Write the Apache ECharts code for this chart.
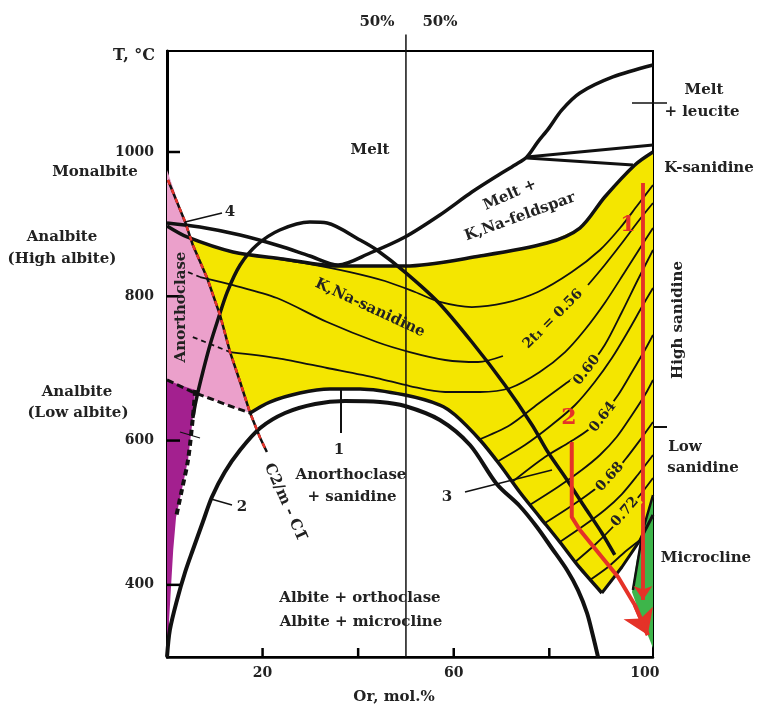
<!DOCTYPE html>
<html>
<head>
<meta charset="utf-8">
<title>Ab-Or phase diagram</title>
<script src="https://cdn.jsdelivr.net/npm/echarts@6.0.0/dist/echarts.min.js"></script>
<style>
  html, body { margin: 0; padding: 0; background: #fff; }
  #chart { width: 757px; height: 712px; }
</style>
</head>
<body>
<div id="chart"></div>
<script>
// axes: Or, mol.% and T, °C
const xMin = 0, xMax = 101.7;
const yMin = 300, yMax = 1140;
const xTickValues = [20, 40, 60, 80];
const xLabelValues = [20, 60, 100];
const yTickValues = [400, 600, 800, 1000];

// phase boundaries [Or, T]
const liquidus = [[0,901.6],[6.9,896.0],[15.3,884.9],[23.6,869.7],[29.9,855.8],[35.8,843.4],[42.5,860.0],[49.8,882.2],[57.1,912.7],[63.8,944.5],[69.7,969.5],[72.8,982.0],[75.3,993.1],[77.6,1014.0],[79.8,1032.0],[82.6,1058.0],[86.4,1081.8],[93.3,1104.0],[101.7,1120.6]];
const solidus = [[0,897.4],[4.2,882.2],[13.8,861.4],[24.3,851.7],[35.8,842.0],[49.8,842.0],[65.5,855.8],[79.5,873.8],[86.4,894.6],[91.6,937.6],[97.9,982.0],[101.7,1000.0]];
const peritecticUpper = [[75.3,993.1],[101.7,1009.7]];
const peritecticLower = [[75.3,991.7],[97.5,982.0]];
const solvusHigh = [[5.4,631.3],[6.1,656.2],[7.5,695.0],[9.0,732.5],[10.5,764.3],[12.6,805.9],[15.3,843.4],[18.8,871.1],[23.6,891.9],[29.9,903.0],[33.5,901.6],[40.4,878.0],[43.9,864.2],[49.8,833.6],[56.7,792.1],[63.8,736.6],[70.7,677.0],[76.4,621.6],[79.7,584.1],[83.3,549.5],[87.4,507.9],[91.0,471.9],[93.7,441.4]];
const solvusDashed = [[5.9,670.1],[5.4,631.3],[4.4,573.0],[3.1,531.4],[1.9,494.0]];
const solvusLow = [[0,300],[0.6,337.4],[2.1,379.0],[3.8,417.8],[5.4,448.3],[7.5,487.1],[9.4,521.7],[12.1,556.4],[15.3,586.9],[19.5,617.4],[24.7,638.2],[31.0,650.7],[37.2,654.8],[44.6,653.4],[49.8,647.9],[57.1,628.5],[63.4,593.8],[69.0,539.8],[73.8,509.3],[77.4,480.2],[80.5,451.1],[83.7,420.6],[86.0,392.8],[87.9,360.9],[89.1,330.4],[90.2,300]];
const sanidineLower = [[17.4,638.2],[21.5,653.4],[27.8,665.9],[34.1,671.5],[40.4,671.5],[49.8,663.1],[57.1,649.3],[60.3,635.4],[65.5,600.8],[69.7,566.1],[73.8,528.7],[78.0,494.0],[82.2,459.4],[86.4,423.4],[91.0,388.7]];
const sanidineRight = [[91.0,388.7],[95.2,424.8],[99.0,462.1],[101.7,496.8]];
const c2mLine = [[0.2,961.2],[3.8,903.0],[5.4,871.1],[8.4,825.3],[11.1,774.0],[13.2,722.7],[15.3,681.2],[17.4,638.2],[19.5,603.5],[20.9,584.1]];
const anorthoclaseLower = [[0,684.0],[5.4,667.3],[12.6,649.3],[17.4,638.2]];
const microclineEdge = [[101.7,524.5],[99.6,476.0],[97.5,392.8]];
const midLine = [[50,300],[50,1163]];

// filled fields
const yellowField = [[4.2,882.2],[13.8,861.4],[24.3,851.7],[35.8,842.0],[49.8,842.0],[65.5,855.8],[79.5,873.8],[86.4,894.6],[91.6,937.6],[97.9,982.0],[101.7,1000.0],[101.7,496.8],[99.0,462.1],[95.2,424.8],[91.0,388.7],[86.4,423.4],[82.2,459.4],[78.0,494.0],[73.8,528.7],[69.7,566.1],[65.5,600.8],[60.3,635.4],[57.1,649.3],[49.8,663.1],[40.4,671.5],[34.1,671.5],[27.8,665.9],[21.5,653.4],[17.4,638.2],[15.3,681.2],[13.2,722.7],[11.1,774.0],[8.4,825.3],[5.4,871.1]];
const pinkField = [[0,975.0],[3.8,903.0],[5.4,871.1],[8.4,825.3],[11.1,774.0],[13.2,722.7],[15.3,681.2],[17.4,638.2],[12.6,649.3],[5.4,667.3],[0,684.0]];
const purpleField = [[0,684.0],[2.7,677.0],[5.9,670.1],[5.4,631.3],[4.4,573.0],[3.1,531.4],[1.9,494.0],[1.3,448.3],[0.8,392.8],[0.2,323.5],[0,302.7]];
const greenField = [[101.7,520.4],[100.0,482.9],[98.3,434.4],[97.3,390.0],[99.0,358.2],[100.6,330.4],[101.7,312.4]];

// 2t1 contours
const t054 = [[19.5,855.8],[29.9,844.7],[38.3,833.6],[45.6,821.2],[51.9,805.9],[57.1,792.1],[63.8,785.1],[70.7,790.7],[77.6,805.9],[84.7,833.6],[90.6,864.2],[94.8,894.6],[98.5,926.5],[101.7,954.2]];
const t056a = [[6.9,826.7],[13.8,815.6],[23.0,797.6],[33.5,764.3],[43.9,736.6],[50.8,722.7],[58.2,711.7],[65.1,708.9],[70.3,717.2]];
const t056b = [[88.1,815.6],[91.6,843.4],[95.2,873.8],[98.5,903.0],[101.7,929.3]];
const t058 = [[13.2,722.7],[23.0,714.4],[33.5,700.6],[43.9,686.7],[50.8,675.6],[58.2,667.3],[65.5,667.3],[71.8,672.9],[78.0,695.0],[83.3,722.7],[87.4,753.2],[91.6,790.7],[95.8,833.6],[99.0,866.9],[101.7,894.6]];
const t060 = [[65.1,600.8],[71.8,621.6],[77.6,650.7],[83.3,678.4],[87.9,700.6],[91.6,732.5],[95.2,778.2],[98.5,822.6],[101.7,864.2]];
const t062 = [[69.0,570.3],[74.9,593.8],[80.5,621.6],[85.4,649.3],[89.5,681.2],[93.1,714.4],[96.4,750.5],[99.6,787.9],[101.7,811.5]];
const t064 = [[72.2,542.5],[79.1,577.2],[84.3,598.0],[88.1,614.6],[91.2,635.4],[94.4,663.1],[97.3,695.0],[100.0,725.5],[101.7,746.3]];
const t066 = [[75.9,510.7],[81.8,535.6],[86.8,559.2],[90.6,580.0],[94.1,604.9],[97.3,635.4],[100.0,663.1],[101.7,684.0]];
const t068 = [[79.1,485.7],[84.3,507.9],[88.5,527.3],[92.7,549.5],[95.8,573.0],[99.0,600.8],[101.7,625.7]];
const t070 = [[82.2,459.4],[87.4,482.9],[91.6,503.7],[95.2,525.9],[98.5,552.3],[101.7,580.0]];
const t072 = [[85.4,431.7],[89.5,455.2],[93.1,478.8],[95.8,499.6],[99.0,524.5],[101.7,548.1]];
const t074 = [[88.5,406.7],[92.3,424.8],[95.8,445.5],[99.0,462.1]];
const t056Stub = [[4.4,833.6],[6.9,826.7]];
const t058Stub = [[5.4,743.5],[13.2,722.7]];

// cooling paths
const path1 = [[99.6,957.0],[99.6,379.0]];
const path2 = [[84.7,598.0],[84.7,494.0],[86.4,476.0],[94.4,410.9],[97.9,372.0],[100.6,330.4]];

const FONT = '"DejaVu Serif", serif';
const RED = '#e53228';
const YELLOW = '#f4e600';

function field(points, fill) {
  return {
    type: 'custom', silent: true, z: 1, data: [points[0]],
    renderItem: (params, api) => ({
      type: 'polygon',
      shape: { points: points.map(p => api.coord(p)) },
      style: { fill: fill }
    })
  };
}
function curve(points, width, extra) {
  return Object.assign({
    type: 'line', data: points, symbol: 'none', smooth: 0.3, silent: true, z: 3,
    lineStyle: { color: '#111', width: width }
  }, extra || {});
}
// red path: body as polyline, last segment carries the arrow head
function redPath(points, width, head) {
  return [
    {
      type: 'line', data: points, symbol: 'none', smooth: false, silent: true, z: 8,
      lineStyle: { color: RED, width: width }
    },
    {
      type: 'lines', coordinateSystem: 'cartesian2d', silent: true, z: 8,
      symbol: ['none', 'arrow'], symbolSize: head,
      lineStyle: { color: RED, width: width, opacity: 1, curveness: 0 },
      data: [{ coords: points.slice(-2) }]
    }
  ];
}
function txt(text, x, y, o) {
  o = o || {};
  return {
    type: 'text', x: x, y: y, z: 100, rotation: (o.rot || 0) * Math.PI / 180,
    style: {
      text: text, font: 'bold ' + (o.size || 15) + 'px ' + FONT, fill: o.color || '#222',
      align: o.align || 'center', verticalAlign: 'middle',
      backgroundColor: o.bg || null, padding: o.bg ? [0, 2] : 0
    }
  };
}
function seg(x1, y1, x2, y2, w) {
  return { type: 'line', z: 100, shape: { x1: x1, y1: y1, x2: x2, y2: y2 }, style: { stroke: '#111', lineWidth: w || 1.5 } };
}

const chart = echarts.init(document.getElementById('chart'));
chart.setOption({
  animation: false,
  backgroundColor: '#fff',
  grid: { left: 167, right: 104, top: 51, bottom: 55, show: true, borderColor: '#000', borderWidth: 2 },
  xAxis: {
    type: 'value', min: xMin, max: xMax, interval: 20,
    axisLine: { show: true, lineStyle: { color: '#000', width: 2.5 } },
    axisTick: { show: false }, splitLine: { show: false },
    axisLabel: {
      margin: 9, color: '#222', fontFamily: FONT, fontWeight: 'bold', fontSize: 14,
      formatter: v => xLabelValues.includes(v) ? String(v) : ''
    }
  },
  yAxis: {
    type: 'value', min: yMin, max: yMax, interval: 100,
    axisLine: { show: true, lineStyle: { color: '#000', width: 3 } },
    axisTick: { show: false }, splitLine: { show: false },
    axisLabel: {
      margin: 13, color: '#222', fontFamily: FONT, fontWeight: 'bold', fontSize: 14,
      formatter: v => yTickValues.includes(v) ? String(v) : ''
    }
  },
  series: [
    field(yellowField, YELLOW),
    field(pinkField, '#eba0cb'),
    field(purpleField, '#a3208f'),
    field(greenField, '#3db54a'),
    // inner ticks
    {
      type: 'custom', silent: true, z: 5, data: xTickValues.map(v => [v, yMin]),
      renderItem: (params, api) => {
        const c = api.coord([api.value(0), api.value(1)]);
        return { type: 'line', shape: { x1: c[0], y1: c[1], x2: c[0], y2: c[1] - 9 }, style: { stroke: '#000', lineWidth: 2.5 } };
      }
    },
    {
      type: 'custom', silent: true, z: 5, data: yTickValues.map(v => [xMin, v]),
      renderItem: (params, api) => {
        const c = api.coord([api.value(0), api.value(1)]);
        return { type: 'line', shape: { x1: c[0], y1: c[1], x2: c[0] + 13, y2: c[1] }, style: { stroke: '#000', lineWidth: 2.5 } };
      }
    },
    curve(midLine, 1.5, { smooth: false, clip: false }),
    // contours
    curve(t054, 1.8), curve(t056a, 1.8), curve(t056b, 1.8), curve(t058, 1.8),
    curve(t060, 1.8), curve(t062, 1.8), curve(t064, 1.8), curve(t066, 1.8),
    curve(t068, 1.8), curve(t070, 1.8), curve(t072, 1.8), curve(t074, 1.8),
    curve(t056Stub, 1.8, { smooth: false, lineStyle: { color: '#111', width: 1.8, type: [5, 4] } }),
    curve(t058Stub, 1.8, { smooth: false, lineStyle: { color: '#111', width: 1.8, type: [5, 4] } }),
    // main boundaries
    curve(liquidus, 3.5, { z: 4 }),
    curve(solidus, 3.5, { z: 4 }),
    curve(peritecticUpper, 3, { z: 4, smooth: false }),
    curve(peritecticLower, 3, { z: 4, smooth: false }),
    curve(solvusHigh, 3.5, { z: 4 }),
    curve(solvusDashed, 4, { z: 4, lineStyle: { color: '#111', width: 4, type: [6, 4] } }),
    curve(solvusLow, 4, { z: 4 }),
    curve(sanidineLower, 3.5, { z: 4 }),
    curve(sanidineRight, 3, { z: 4, smooth: false }),
    curve(anorthoclaseLower, 3, { z: 4, smooth: false, lineStyle: { color: '#111', width: 3, type: [7, 4] } }),
    curve(microclineEdge, 2.5, { z: 4, smooth: false }),
    curve(c2mLine, 2.5, { z: 5, smooth: false, lineStyle: { color: '#111', width: 2.5 } }),
    curve(c2mLine, 2.5, { z: 6, smooth: false, lineStyle: { color: RED, width: 2.5, type: [5, 5] } }),
    // cooling paths
    ...redPath(path1, 3.5, 14),
    ...redPath(path2, 4, 24)
  ],
  graphic: [
    txt('T, °C', 155, 56, { size: 16, align: 'right' }),
    txt('50%', 377, 22),
    txt('50%', 440, 22),
    txt('Or, mol.%', 394, 697),
    txt('Monalbite', 95, 172),
    txt('Analbite', 62, 237),
    txt('(High albite)', 62, 259),
    txt('Anorthoclase', 181, 307, { rot: 90 }),
    txt('Analbite', 77, 392),
    txt('(Low albite)', 78, 413),
    txt('Melt', 370, 150),
    txt('Melt +', 510, 195, { rot: 24 }),
    txt('K,Na-feldspar', 520, 217, { rot: 20 }),
    txt('K,Na-sanidine', 370, 308, { rot: -25 }),
    txt('Anorthoclase', 351, 475),
    txt('+ sanidine', 352, 497),
    txt('Albite + orthoclase', 360, 598),
    txt('Albite + microcline', 361, 622),
    txt('C2/m - C1\u0305', 285, 502, { rot: -66 }),
    txt('Melt', 704, 90),
    txt('+ leucite', 702, 112),
    txt('K-sanidine', 709, 168),
    txt('High sanidine', 678, 320, { rot: 90 }),
    txt('Low', 685, 447),
    txt('sanidine', 703, 468),
    txt('Microcline', 706, 558),
    txt('2t\u2081 = 0.56', 553, 319, { rot: 45, size: 14 }),
    txt('0.60', 587, 370, { rot: 52, size: 14, bg: YELLOW }),
    txt('0.64', 603, 417, { rot: 52, size: 14, bg: YELLOW }),
    txt('0.68', 610, 477, { rot: 48, size: 14, bg: YELLOW }),
    txt('0.72', 625, 512, { rot: 49, size: 14, bg: YELLOW }),
    txt('1', 628, 225, { size: 22, color: RED }),
    txt('2', 569, 418, { size: 22, color: RED }),
    txt('4', 230, 212),
    txt('1', 339, 450),
    txt('2', 242, 507),
    txt('3', 447, 497),
    seg(185, 222, 222, 213),
    seg(341, 390, 341, 433, 2),
    seg(211, 499, 232, 505),
    seg(465, 492, 552, 470),
    seg(632, 103, 667, 103),
    seg(653, 427, 667, 427, 2),
    seg(180, 432, 200, 438, 1.2)
  ]
});
</script>
</body>
</html>
